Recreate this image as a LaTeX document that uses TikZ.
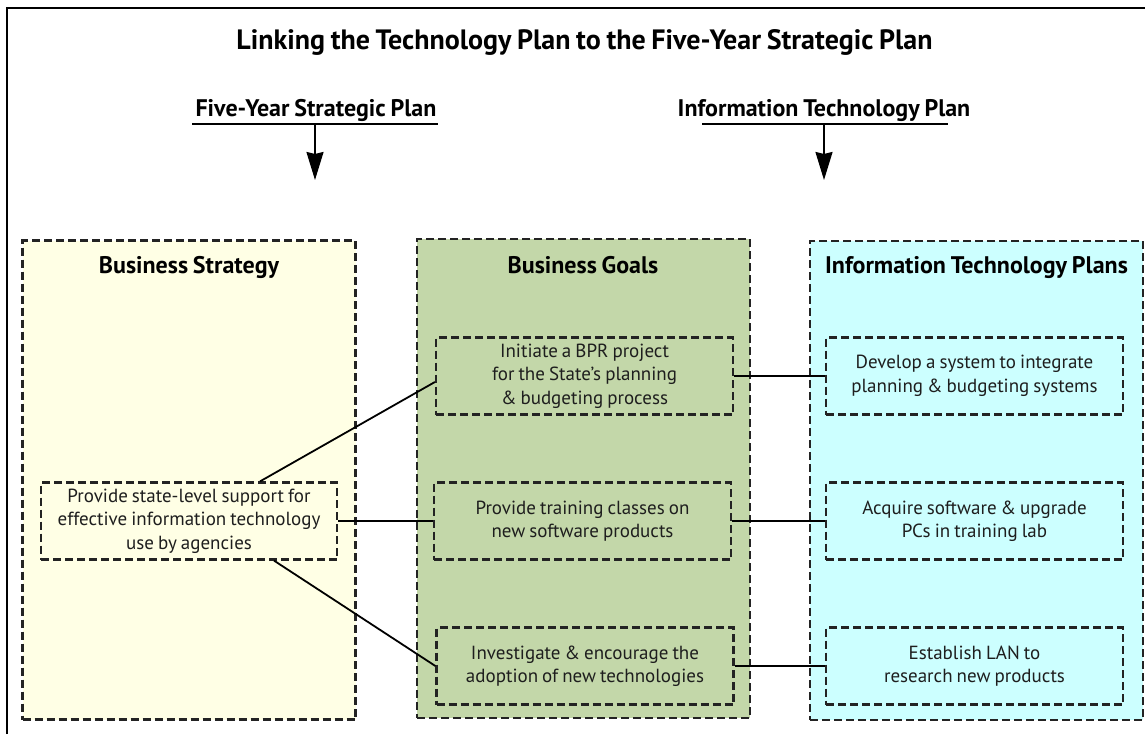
\documentclass[tikz,border=0pt]{standalone}
\usepackage{fontspec}
\setmainfont{PT Sans}[WordSpace=0.8]
\usetikzlibrary{arrows.meta}
\definecolor{stratfill}{RGB}{255,255,229}
\definecolor{goalfill}{RGB}{195,215,169}
\definecolor{itfill}{RGB}{204,255,255}
\definecolor{dashcol}{RGB}{35,35,35}
\definecolor{txtcol}{RGB}{30,30,30}
\begin{document}
\begin{tikzpicture}[x=1pt,y=-1pt,
  bigbox/.style={draw=dashcol, line width=2.2pt, dash pattern=on 8pt off 4pt, minimum width=333pt, minimum height=479pt, inner sep=0pt},
  smallbox/.style={draw=dashcol, line width=2.2pt, dash pattern=on 8pt off 4pt, minimum width=297pt, minimum height=77pt, align=center, text=txtcol, font=\fontsize{19}{23.5}\selectfont, inner sep=0pt},
  coltitle/.style={font=\bfseries\fontsize{24}{28}\selectfont, anchor=base, inner sep=0pt},
  subhead/.style={font=\bfseries\fontsize{24}{28}\selectfont, anchor=base, inner sep=0pt},
  link/.style={line width=1.8pt, black},
  downarrow/.style={line width=1.8pt, -{Stealth[length=28pt,width=17pt,inset=2pt]}}]
\useasboundingbox (0,0) rectangle (1145,734);
\fill[white] (0,0) rectangle (1145,734);
% outer frame (left and top edges visible)
\draw[line width=2pt] (7,734) -- (7,8) -- (1145,8);
% title
\node[font=\bfseries\fontsize{28}{32}\selectfont, anchor=base, inner sep=0pt] (title) at (584.5,49) {Linking the Technology Plan to the Five-Year Strategic Plan};
% sub headers
\node[subhead] (fysp) at (316,116) {Five-Year Strategic Plan};
\node[subhead] (itp) at (824,116) {Information Technology Plan};
\coordinate (u1a) at (192,124);
\coordinate (u1b) at (438,124);
\coordinate (a1) at (315,124);
\coordinate (a1t) at (315,180);
\coordinate (u2a) at (702,124);
\coordinate (u2b) at (948,124);
\coordinate (a2) at (824,124);
\coordinate (a2t) at (824,180);
\draw[line width=2pt] (u1a) -- (u1b);
\draw[line width=2pt] (u2a) -- (u2b);
\draw[downarrow] (a1) -- (a1t);
\draw[downarrow] (a2) -- (a2t);
% big boxes
\node[bigbox, fill=stratfill] (bs) at (189,480) {};
\node[bigbox, fill=goalfill] (bg) at (583.5,478.5) {};
\node[bigbox, fill=itfill] (bi) at (976.5,480.5) {};
\node[coltitle] (bst) at (189,273) {Business Strategy};
\node[coltitle] (bgt) at (583,273) {Business Goals};
\node[coltitle] (bit) at (976.5,273) {Information Technology Plans};
% inner boxes
\node[smallbox, minimum width=296pt, minimum height=77pt] (s) at (189,521) {Provide state-level support for\\effective information technology\\use by agencies};
\node[smallbox] (g1) at (584.5,376) {Initiate a BPR project\\for the State's planning\\\& budgeting process};
\node[smallbox] (g2) at (582.5,521) {Provide training classes on\\new software products};
\node[smallbox] (g3) at (585,666) {Investigate \& encourage the\\adoption of new technologies};
\node[smallbox] (i1) at (974.5,376) {Develop a system to integrate\\planning \& budgeting systems};
\node[smallbox] (i2) at (974.5,521) {Acquire software \& upgrade\\PCs in training lab};
\node[smallbox] (i3) at (974.5,666) {Establish LAN to\\research new products};
% connectors
\draw[link] ([xshift=71pt]s.north) -- ([yshift=-6pt]g1.west);
\draw[link] (s.east) -- (s.east -| g2.west);
\draw[link] ([xshift=85pt]s.south) -- (g3.west);
\draw[link] (g1.east) -- (i1.west);
\draw[link] (g2.east) -- (i2.west);
\draw[link] (g3.east) -- (i3.west);
\end{tikzpicture}
\end{document}
